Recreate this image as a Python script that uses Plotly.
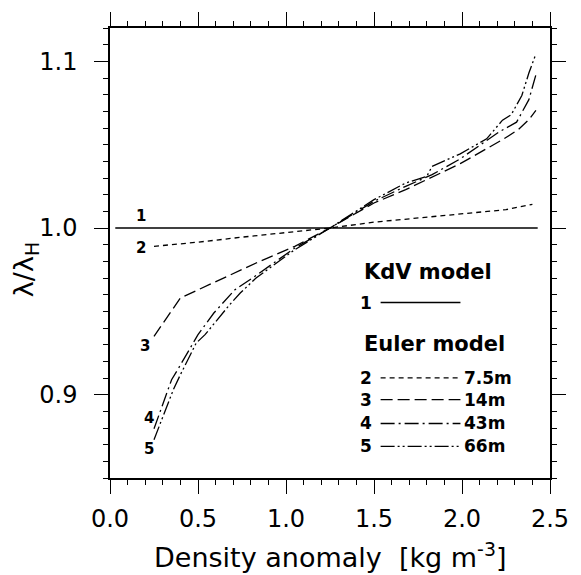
import plotly.graph_objects as go

# ---- data ----
x_kdv = [0.03, 2.43]
y_kdv = [1.0, 1.0]

x_e75 = [0.25, 0.5, 0.75, 1.0, 1.25, 1.5, 1.75, 2.0, 2.25, 2.40]
y_e75 = [0.989, 0.9915, 0.9945, 0.9972, 1.0, 1.0035, 1.006, 1.0085, 1.011, 1.0142]

x_e14 = [0.25, 0.40, 0.83, 1.05, 1.25, 1.5, 1.68, 1.99, 2.23, 2.32, 2.38, 2.42]
y_e14 = [0.935, 0.958, 0.979, 0.989, 1.0, 1.015, 1.023, 1.0386, 1.053, 1.059, 1.065, 1.0706]

x_e43 = [0.25, 0.35, 0.39, 0.50, 0.59, 0.71, 0.83, 1.05, 1.25, 1.5, 1.68, 1.83, 1.99, 2.21, 2.31, 2.38, 2.42]
y_e43 = [0.8795, 0.909, 0.916, 0.936, 0.949, 0.963, 0.9715, 0.988, 1.0, 1.016, 1.025, 1.032, 1.0415, 1.0576, 1.0635, 1.077, 1.092]

x_e66 = [0.25, 0.36, 0.40, 0.49, 0.54, 0.68, 0.74, 0.83, 1.05, 1.25, 1.5, 1.68, 1.80, 1.83, 1.99, 2.14, 2.23, 2.28, 2.34, 2.38, 2.42]
y_e66 = [0.873, 0.903, 0.912, 0.931, 0.936, 0.954, 0.961, 0.970, 0.987, 1.0, 1.017, 1.027, 1.031, 1.037, 1.0445, 1.0535, 1.0647, 1.068, 1.0795, 1.093, 1.1045]

curve_ids = ["1", "2", "3", "4", "5"]
euler_labels = ["7.5m", "14m", "43m", "66m"]
x_ticks = [0.0, 0.5, 1.0, 1.5, 2.0, 2.5]
y_ticks = [0.9, 1.0, 1.1]

# ---- layout geometry (pixels) ----
W, H = 581, 575
ML, MR, MT, MB = 110, 19, 24, 97
PW, PH = W - ML - MR, H - MT - MB


def px(xp):
    return (xp - ML) / PW


def py(yp):
    return (H - MB - yp) / PH


dashes = ["solid", "5px,4px", "12px,5px", "14px,4px,2px,4px", "14px,3px,2px,3px,2px,3px"]
series = [(x_kdv, y_kdv), (x_e75, y_e75), (x_e14, y_e14), (x_e43, y_e43), (x_e66, y_e66)]

fig = go.Figure()
for i, (xs, ys) in enumerate(series):
    fig.add_trace(go.Scatter(x=xs, y=ys, mode="lines",
                             line=dict(color="black", width=1.6 if i == 0 else 1.3, dash=dashes[i]),
                             showlegend=False, hoverinfo="skip"))

ann = []
shapes = []
lab_font = dict(family="DejaVu Sans", size=15, color="black")
# curve labels
label_pos = [(142, 214), (142, 246), (146, 345), (150, 417), (150, 449)]
for cid, (xp, yp) in zip(curve_ids, label_pos):
    ann.append(dict(text=f"<b>{cid}</b>", x=px(xp), y=py(yp), xref="paper", yref="paper",
                    showarrow=False, font=lab_font, xanchor="center", yanchor="middle"))

# legend block
big = dict(family="DejaVu Sans", size=21, color="black")
leg_font = dict(family="DejaVu Sans", size=17, color="black")
ann.append(dict(text="<b>KdV model</b>", x=px(369), y=py(270), xref="paper", yref="paper",
                showarrow=False, font=big, xanchor="left", yanchor="middle"))
ann.append(dict(text="<b>Euler model</b>", x=px(369), y=py(343), xref="paper", yref="paper",
                showarrow=False, font=big, xanchor="left", yanchor="middle"))
leg_rows = [301, 377, 399, 423, 446]
for i, yp in enumerate(leg_rows):
    ann.append(dict(text=f"<b>{curve_ids[i]}</b>", x=px(373), y=py(yp), xref="paper", yref="paper",
                    showarrow=False, font=leg_font, xanchor="center", yanchor="middle"))
    shapes.append(dict(type="line", xref="paper", yref="paper", x0=px(388), x1=px(470),
                       y0=py(yp), y1=py(yp),
                       line=dict(color="black", width=1.6 if i == 0 else 1.3, dash=dashes[i])))
    if i > 0:
        ann.append(dict(text=f"<b>{euler_labels[i-1]}</b>", x=px(472), y=py(yp), xref="paper", yref="paper",
                        showarrow=False, font=leg_font, xanchor="left", yanchor="middle"))

# axis titles
ann.append(dict(text="λ/λ<sub>H</sub>", x=px(24), y=py(268), xref="paper", yref="paper",
                showarrow=False, textangle=-90, font=dict(family="DejaVu Sans", size=27, color="black"),
                xanchor="center", yanchor="middle"))
ann.append(dict(text="Density anomaly\u00a0\u00a0[kg m<sup>-3</sup>]", x=px(336), y=py(556),
                xref="paper", yref="paper", showarrow=False,
                font=dict(family="DejaVu Sans", size=27, color="black"),
                xanchor="center", yanchor="middle"))

axis_common = dict(showgrid=False, zeroline=False, showline=True, linecolor="black", linewidth=1.5,
                   mirror="ticks", ticks="outside", ticklen=14, tickwidth=1.3, tickcolor="black",
                   tickfont=dict(family="DejaVu Sans", size=24, color="black"),
                   tickformat=".1f")

fig.update_layout(
    width=W, height=H,
    margin=dict(l=ML, r=MR, t=MT, b=MB),
    paper_bgcolor="white", plot_bgcolor="white",
    xaxis=dict(range=[0, 2.5], tickvals=x_ticks, ticklabelstandoff=4,
               minor=dict(dtick=0.1, ticks="outside", ticklen=5, tickwidth=1, tickcolor="black"),
               **axis_common),
    yaxis=dict(range=[0.85, 1.12], tickvals=y_ticks, ticklabelstandoff=12,
               minor=dict(dtick=0.01, ticks="outside", ticklen=5, tickwidth=1, tickcolor="black"),
               **axis_common),
    annotations=ann,
    shapes=shapes,
)

fig.write_html("out.html")
